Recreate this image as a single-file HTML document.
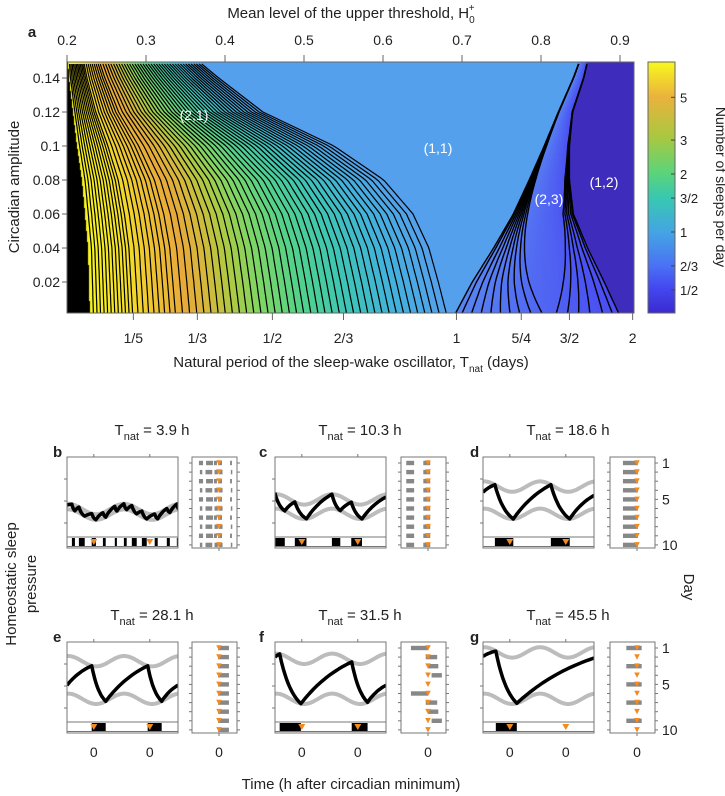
<!DOCTYPE html>
<html><head><meta charset="utf-8">
<style>
html,body{margin:0;padding:0;background:#fff;}
#wrap{position:relative;width:725px;height:796px;overflow:hidden;font-family:"Liberation Sans",Arial,sans-serif;}
#heat{position:absolute;left:67px;top:62px;}
#svg{position:absolute;left:0;top:0;}
text{font-family:"Liberation Sans",Arial,sans-serif;fill:#222;}
</style></head>
<body>
<div id="wrap">
<canvas id="heat" width="567" height="251"></canvas>
<svg id="svg" width="725" height="796" xmlns="http://www.w3.org/2000/svg">
<defs>
<linearGradient id="cbg" x1="0" y1="0" x2="0" y2="1">
<stop offset="0" stop-color="#f8f81e"/>
<stop offset="0.14" stop-color="#eab23c"/>
<stop offset="0.30" stop-color="#a8c840"/>
<stop offset="0.44" stop-color="#5cd47a"/>
<stop offset="0.54" stop-color="#38c8b0"/>
<stop offset="0.68" stop-color="#44a4e4"/>
<stop offset="0.81" stop-color="#4a72f4"/>
<stop offset="0.90" stop-color="#4448f0"/>
<stop offset="1" stop-color="#3b2ad0"/>
</linearGradient>
</defs>
<g id="contours"></g>
<rect x="67" y="62" width="567" height="251" fill="none" stroke="#666" stroke-width="1"/>
<text x="32" y="37" font-size="15" font-weight="bold" text-anchor="middle">a</text>
<text x="351" y="18" font-size="15" text-anchor="middle">Mean level of the upper threshold, H<tspan font-size="10" dy="5">0</tspan><tspan font-size="10" dx="-6" dy="-12">+</tspan></text>
<g id="topticks"></g>
<g id="leftticks"></g>
<g id="bottomticks"></g>
<text x="351" y="367" font-size="15" text-anchor="middle">Natural period of the sleep-wake oscillator, T<tspan font-size="10" dy="5">nat</tspan><tspan dy="-5"> (days)</tspan></text>
<text transform="translate(19,187) rotate(-90)" font-size="15" text-anchor="middle">Circadian amplitude</text>
<text x="194" y="120" font-size="14" style="fill:#fff" text-anchor="middle">(2,1)</text>
<text x="438" y="153" font-size="14" style="fill:#fff" text-anchor="middle">(1,1)</text>
<text x="549" y="204" font-size="14" style="fill:#fff" text-anchor="middle">(2,3)</text>
<text x="604" y="187" font-size="14" style="fill:#fff" text-anchor="middle">(1,2)</text>
<rect x="648" y="62" width="27" height="251" fill="url(#cbg)" stroke="#666" stroke-width="1"/>
<g id="cbticks"></g>
<text transform="translate(716,187) rotate(90)" font-size="14" text-anchor="middle">Number of sleeps per day</text>
<g id="panels"></g>
<text transform="translate(16,584) rotate(-90)" font-size="15" text-anchor="middle">Homeostatic sleep</text>
<text transform="translate(36,584) rotate(-90)" font-size="15" text-anchor="middle">pressure</text>
<text transform="translate(684,587) rotate(90)" font-size="15" text-anchor="middle">Day</text>
<text x="351" y="789" font-size="15" text-anchor="middle">Time (h after circadian minimum)</text>
</svg>
</div>
<script>
// ---------- Panel a data ----------
const ampGrid = [0.0, 0.02, 0.04, 0.06, 0.08, 0.10, 0.12, 0.14, 0.15];
const blackEdgeH0 = [0.229, 0.2278, 0.2266, 0.2228, 0.219, 0.2127, 0.2076, 0.2025, 0.2013];
const leftBoundH0 = [0.681, 0.670, 0.658, 0.638, 0.601, 0.538, 0.448, 0.392, 0.366];
const rightBoundH0 = [0.690, 0.713, 0.740, 0.765, 0.785, 0.804, 0.822, 0.841, 0.849];
const farBoundH0 = [0.900, 0.880, 0.859, 0.841, 0.836, 0.836, 0.840, 0.854, 0.859];
const leftLevels = [0.01,0.02,0.03,0.04,0.05,0.06,0.07,0.08,0.09,0.10,0.11,0.12,0.135,0.15,0.165,0.18,0.195,0.21,0.225,0.24,0.26,0.28,0.30,0.32,0.34,0.36,0.38,0.40,0.42,0.44,0.46,0.48,0.50,0.52,0.54,0.56,0.58,0.60,0.62,0.64,0.66,0.68,0.70,0.72,0.74,0.76,0.78,0.80,0.82,0.84,0.86,0.88,0.90,0.92,0.94,0.96,0.98,1.0];
const rightLevels = [0.0,0.04,0.10,0.16,0.22,0.28,0.34,0.40,0.47,0.54,0.61,0.68,0.75,0.82,0.90,0.96,1.0];
const topTicks = [0.2,0.3,0.4,0.5,0.6,0.7,0.8,0.9];
const leftTicks = [0.02,0.04,0.06,0.08,0.1,0.12,0.14];
const leftTickLabels = ["0.02","0.04","0.06","0.08","0.1","0.12","0.14"];
const bottomTickLabels = ["1/5","1/3","1/2","2/3","1","5/4","3/2","2"];
const bottomTickH0 = [0.284, 0.365, 0.460, 0.550, 0.693, 0.775, 0.836, 0.916];
const cbValues = [5,3,2,1.5,1,0.6667,0.5];
const cbLabels = ["5","3","2","3/2","1","2/3","1/2"];

// ---------- Panels b-g data ----------
const panelIds = ["b","c","d","e","f","g"];
const panelTitles = ["3.9","10.3","18.6","28.1","31.5","45.5"];
const upperMean = [0.35,0.47,0.63,0.76,0.79,0.87];
const lowerMean = [0.28,0.29,0.29,0.29,0.29,0.29];
const startH = [0.40,0.55,0.56,0.46,0.81,0.82];
const endH = [0.42,0.50,0.52,0.46,0.46,0.80];
const sleepB = [[-9.4,-8.1],[-6.4,-3.9],[-0.9,0.9],[3.9,5.1],[9.0,9.9],[12.9,14.1],[16.3,18.4],[20.6,22.7],[26.1,27.4],[31.3,32.6],[35.6,36.5]];
const sleepC = [[-11.4,-7.3],[-3.0,2.0],[12.9,16.5],[21.2,25.8]];
const sleepD = [[-6.4,1.5],[17.6,25.7]];
const sleepE = [[-0.9,5.1],[23.1,29.1]];
const sleepF = [[-9.5,-0.4],[21.4,28.2]];
const sleepG = [[-6.0,3.0]];
const sleeps = [sleepB,sleepC,sleepD,sleepE,sleepF,sleepG];
const rasterB = [[1,-10.7,-8.5],[1,-6.9,-3.2],[1,-2.7,-1.1],[1,-0.5,1.6],[1,5.9,6.9],[2,-10.2,-8.9],[2,-7.2,-3.6],[2,-2.4,-0.6],[2,-0.1,1.9],[2,6.3,7.1],[3,-10.7,-8.5],[3,-6.9,-3.2],[3,-2.7,-1.1],[3,-0.5,1.6],[3,5.9,6.9],[4,-10.2,-8.9],[4,-7.2,-3.6],[4,-2.4,-0.6],[4,-0.1,1.9],[4,6.3,7.1],[5,-10.7,-8.5],[5,-6.9,-3.2],[5,-2.7,-1.1],[5,-0.5,1.6],[5,5.9,6.9],[6,-10.2,-8.9],[6,-7.2,-3.6],[6,-2.4,-0.6],[6,-0.1,1.9],[6,6.3,7.1],[7,-10.7,-8.5],[7,-6.9,-3.2],[7,-2.7,-1.1],[7,-0.5,1.6],[7,5.9,6.9],[8,-10.2,-8.9],[8,-7.2,-3.6],[8,-2.4,-0.6],[8,-0.1,1.9],[8,6.3,7.1],[9,-10.7,-8.5],[9,-6.9,-3.2],[9,-2.7,-1.1],[9,-0.5,1.6],[9,5.9,6.9],[10,-10.2,-8.9],[10,-7.2,-3.6],[10,-2.4,-0.6],[10,-0.1,1.9],[10,6.3,7.1]];
const rasterC = [[1,-11.6,-7.4],[1,-2.5,1.2],[2,-11.6,-7.4],[2,-2.5,1.2],[3,-11.6,-7.4],[3,-2.5,1.2],[4,-11.6,-7.4],[4,-2.5,1.2],[5,-11.6,-7.4],[5,-2.5,1.2],[6,-11.6,-7.4],[6,-2.5,1.2],[7,-11.6,-7.4],[7,-2.5,1.2],[8,-11.6,-7.4],[8,-2.5,1.2],[9,-11.6,-7.4],[9,-2.5,1.2],[10,-11.6,-7.4],[10,-2.5,1.2]];
const rasterD = [[1,-7.5,0.5],[2,-7.5,0.5],[3,-7.5,0.5],[4,-7.5,0.5],[5,-7.5,0.5],[6,-7.5,0.5],[7,-7.5,0.5],[8,-7.5,0.5],[9,-7.5,0.5],[10,-7.5,0.5]];
const rasterE = [[1,-0.5,5.3],[2,-0.5,5.3],[3,-0.5,5.3],[4,-0.5,5.3],[5,-0.5,5.3],[6,-0.5,5.3],[7,-0.5,5.3],[8,-0.5,5.3],[9,-0.5,5.3],[10,-0.5,5.3]];
const rasterF = [[1,-9.1,0],[2,-1.2,4.9],[3,0,5.5],[4,1.9,7.4],[6,-9.1,0],[7,-1.2,4.9],[8,0,5.5],[9,1.9,7.4]];
const rasterG = [[1,-5.7,2.5],[3,-5.7,2.5],[5,-5.7,2.5],[7,-5.7,2.5],[9,-5.7,2.5]];
const rasters = [rasterB,rasterC,rasterD,rasterE,rasterF,rasterG];
const dayTicks = [1,5,10];
const circMinima = [0,24];

// ---------- helpers ----------
const NS = "http://www.w3.org/2000/svg";
function mk(tag, parent){ const e=document.createElementNS(NS,tag); parent.appendChild(e); return e; }
function interp(xs, ys, x){
  if (x<=xs[0]) return ys[0];
  for (let i=1;i<xs.length;i++){ if (x<=xs[i]){ const f=(x-xs[i-1])/(xs[i]-xs[i-1]); return ys[i-1]+f*(ys[i]-ys[i-1]); } }
  return ys[ys.length-1];
}
const xH = h => 67 + (h-0.2)*790;
const yA = a => 316 - a*1700;
const aOfY = y => (316-y)/1700;

// colormap for left region
const cmU = [0,0.10,0.18,0.27,0.33,0.40,0.48,0.60,0.72,0.86,1.0];
const cmC = [[246,244,30],[244,226,40],[238,196,52],[232,170,58],[214,184,60],[176,202,66],[128,214,100],[82,210,140],[62,198,180],[66,178,220],[85,160,236]];
function cmap(u){
  u=Math.max(0,Math.min(1,u));
  for (let i=1;i<cmU.length;i++){ if(u<=cmU[i]){ const f=(u-cmU[i-1])/(cmU[i]-cmU[i-1]); return cmC[i-1].map((c,k)=>c+f*(cmC[i][k]-c)); } }
  return cmC[cmC.length-1];
}

// ---------- heatmap fill ----------
(function(){
  const cv=document.getElementById('heat'); const ctx=cv.getContext('2d');
  const W=cv.width,H=cv.height; const img=ctx.createImageData(W,H);
  for (let j=0;j<H;j++){
    const y=62+j+0.5, a=aOfY(y);
    const xb=xH(interp(ampGrid,blackEdgeH0,a)), B=xH(interp(ampGrid,leftBoundH0,a));
    const R1=xH(interp(ampGrid,rightBoundH0,a)), R2=xH(interp(ampGrid,farBoundH0,a));
    for (let i=0;i<W;i++){
      const x=67+i+0.5; let c;
      if (x<xb) c=[0,0,0];
      else if (x<B) c=cmap((x-xb)/(B-xb));
      else if (x<R1) c=[85,160,236];
      else if (x<R2){ const v=(x-R1)/(R2-R1); c=[88-14*v,132-56*v,242]; }
      else c=[62,44,188];
      const p=(j*W+i)*4; img.data[p]=c[0]; img.data[p+1]=c[1]; img.data[p+2]=c[2]; img.data[p+3]=255;
    }
  }
  ctx.putImageData(img,0,0);
})();

// ---------- contour lines ----------
(function(){
  const g=document.getElementById('contours');
  leftLevels.forEach(u=>{
    let d="";
    for (let y=313;y>=62;y-=3){
      const a=aOfY(y); const xb=xH(interp(ampGrid,blackEdgeH0,a)), B=xH(interp(ampGrid,leftBoundH0,a));
      d+=(d?"L":"M")+(xb+u*(B-xb)).toFixed(1)+","+y;
    }
    const p=mk('path',g);
    
    
    p.setAttribute('d',d); p.setAttribute('fill','none'); p.setAttribute('stroke','#000'); p.setAttribute('stroke-width','1.2');
  });
  rightLevels.forEach(v=>{
    let d="";
    for (let y=313;y>=62;y-=3){
      const a=aOfY(y), f=Math.min(1,a/0.15), s=Math.pow(1-f,1.6);
      const R1=xH(interp(ampGrid,rightBoundH0,a)), R2=xH(interp(ampGrid,farBoundH0,a));
      const vv = v<0.55 ? v*s : 1-(1-v)*s;
      d+=(d?"L":"M")+(R1+vv*(R2-R1)).toFixed(1)+","+y;
    }
    const p=mk('path',g);
    
    
    p.setAttribute('d',d); p.setAttribute('fill','none'); p.setAttribute('stroke','#000'); p.setAttribute('stroke-width','1.4');
  });
})();

// ---------- axes panel a ----------
(function(){
  const gt=document.getElementById('topticks');
  topTicks.forEach(v=>{
    const x=xH(v);
    const l=mk('line',gt);
    
    
    l.setAttribute('x1',x);l.setAttribute('x2',x);l.setAttribute('y1',55);l.setAttribute('y2',62);l.setAttribute('stroke','#666');
    const t=mk('text',gt);
    
    
    t.setAttribute('x',x);t.setAttribute('y',45);t.setAttribute('font-size','14');t.setAttribute('text-anchor','middle');
    t.textContent=String(v);
  });
  const gl=document.getElementById('leftticks');
  leftTicks.forEach((v,i)=>{
    const y=yA(v);
    const l=mk('line',gl);
    
    
    l.setAttribute('x1',67);l.setAttribute('x2',62);l.setAttribute('y1',y);l.setAttribute('y2',y);l.setAttribute('stroke','#666');
    const t=mk('text',gl);
    
    
    t.setAttribute('x',60);t.setAttribute('y',y+5);t.setAttribute('font-size','14');t.setAttribute('text-anchor','end');
    t.textContent=leftTickLabels[i];
  });
  const gb=document.getElementById('bottomticks');
  bottomTickH0.forEach((v,i)=>{
    const x=xH(v);
    const l=mk('line',gb);
    
    
    l.setAttribute('x1',x);l.setAttribute('x2',x);l.setAttribute('y1',313);l.setAttribute('y2',320);l.setAttribute('stroke','#666');
    const t=mk('text',gb);
    
    
    t.setAttribute('x',x);t.setAttribute('y',343);t.setAttribute('font-size','14');t.setAttribute('text-anchor','middle');
    t.textContent=bottomTickLabels[i];
  });
  const gc=document.getElementById('cbticks');
  const cbY = s => 232 - Math.log2(s)*58;
  cbValues.forEach((v,i)=>{
    const y=cbY(v);
    const l=mk('line',gc);
    
    
    l.setAttribute('x1',675);l.setAttribute('x2',671);l.setAttribute('y1',y);l.setAttribute('y2',y);l.setAttribute('stroke','#444');
    const t=mk('text',gc);
    
    
    t.setAttribute('x',680);t.setAttribute('y',y+5);t.setAttribute('font-size','13');
    t.textContent=cbLabels[i];
  });
})();

// ---------- panels b-g ----------
(function(){
  const G=document.getElementById('panels');
  const colMain=[67,275,483], colRaster=[192,401,610];
  const rowTop=[457,642], rowStrip=[537,722], rowBot=[548,733];
  const T0=-11.5, T1=36.1, MW=111, RW=45, RZ=27, RPH=1.875;
  const amp=0.065, tmax=13;
  panelIds.forEach((id,k)=>{
    const col=k%3,row=Math.floor(k/3);
    const L=colMain[col], top=rowTop[row], st=rowStrip[row], bot=rowBot[row];
    const xT=t=>L+(t-T0)/(T1-T0)*MW, yH=h=>st-h*80;
    const up=t=>upperMean[k]+amp*Math.cos(2*Math.PI*(t-tmax)/24);
    const lo=t=>lowerMean[k]+amp*Math.cos(2*Math.PI*(t-tmax)/24);
    const g=mk('g',G);
    
    
    const tt=mk('text',g);
    
    
    tt.setAttribute('x',[152,360,568][col]);tt.setAttribute('y',top-22);tt.setAttribute('font-size','15');tt.setAttribute('text-anchor','middle');
    tt.innerHTML='T<tspan font-size="11" dy="5">nat</tspan><tspan dy="-5"> = '+panelTitles[k]+' h</tspan>';
    const lb=mk('text',g);
    
    
    lb.setAttribute('x',[53,259,470][col]);lb.setAttribute('y',top);lb.setAttribute('font-size','15');lb.setAttribute('font-weight','bold');
    lb.textContent=id;
    const cp=mk('clipPath',g); cp.setAttribute('id','clip'+id);
    const cr=mk('rect',cp); cr.setAttribute('x',L);cr.setAttribute('y',top);cr.setAttribute('width',MW);cr.setAttribute('height',st-top);
    const inner=mk('g',g); inner.setAttribute('clip-path','url(#clip'+id+')');
    
    
    [up,lo].forEach((fn,q)=>{
      let d="";
      for(let t=T0;t<=T1+0.01;t+=0.5){ d+=(d?"L":"M")+xT(t).toFixed(1)+","+yH(fn(t)).toFixed(1); }
      const p=mk('path',inner);
      
      
      p.setAttribute('d',d);p.setAttribute('fill','none');p.setAttribute('stroke','#bcbcbc');p.setAttribute('stroke-width','4');
    });
    const pts=[]; const sl=sleeps[k];
    if (sl[0][0]>T0+0.05) pts.push([T0,startH[k]]);
    sl.forEach(s=>{ pts.push([s[0],up(s[0])]); pts.push([s[1],lo(s[1])]); });
    if (sl[sl.length-1][1]<T1) pts.push([T1,endH[k]]);
    let d="M"+xT(pts[0][0]).toFixed(1)+","+yH(pts[0][1]).toFixed(1);
    for(let i=1;i<pts.length;i++){
      const [t0,h0]=pts[i-1],[t1,h1]=pts[i]; const kk=h1<h0?1.6:1.0; const n=12;
      for(let s=1;s<=n;s++){ const f=s/n; const e=(1-Math.exp(-kk*f))/(1-Math.exp(-kk));
        d+="L"+xT(t0+f*(t1-t0)).toFixed(1)+","+yH(h0+e*(h1-h0)).toFixed(1); }
    }
    const tr=mk('path',inner);
    
    
    tr.setAttribute('d',d);tr.setAttribute('fill','none');tr.setAttribute('stroke','#000');tr.setAttribute('stroke-width','3.5');tr.setAttribute('stroke-linejoin','round');
    const sb=mk('g',g); sb.setAttribute('clip-path','url(#clipS'+id+')');
    
    
    const cp2=mk('clipPath',g); cp2.setAttribute('id','clipS'+id);
    const cr2=mk('rect',cp2); cr2.setAttribute('x',L);cr2.setAttribute('y',st);cr2.setAttribute('width',MW);cr2.setAttribute('height',bot-st);
    sl.forEach(s=>{
      const r=mk('rect',sb);
      
      
      r.setAttribute('x',xT(s[0]));r.setAttribute('width',xT(s[1])-xT(s[0]));r.setAttribute('y',st+1);r.setAttribute('height',bot-st-2.5);r.setAttribute('fill','#000');
    });
    circMinima.forEach(t=>{
      const x=xT(t); const tri=mk('path',g);
      
      
      tri.setAttribute('d',`M${x-3.5},${st+2}L${x+3.5},${st+2}L${x},${st+8}Z`);tri.setAttribute('fill','#f28a22');
    });
    [st,bot-1.5].forEach(y=>{
      const l=mk('line',g);
      
      
      l.setAttribute('x1',L);l.setAttribute('x2',L+MW);l.setAttribute('y1',y);l.setAttribute('y2',y);l.setAttribute('stroke','#777');
    });
    const fr=mk('rect',g);
    
    
    fr.setAttribute('x',L);fr.setAttribute('y',top);fr.setAttribute('width',MW);fr.setAttribute('height',bot-top);fr.setAttribute('fill','none');fr.setAttribute('stroke','#777');
    circMinima.forEach(t=>{
      const l=mk('line',g);
      
      
      l.setAttribute('x1',xT(t));l.setAttribute('x2',xT(t));l.setAttribute('y1',top-3);l.setAttribute('y2',top);l.setAttribute('stroke','#777');
      if(row===1){ const tx=mk('text',g);
        
        
        tx.setAttribute('x',xT(t));tx.setAttribute('y',757);tx.setAttribute('font-size','14');tx.setAttribute('text-anchor','middle');tx.textContent='0'; }
    });
    [0.25,0.5,0.75].forEach(f=>{
      const y=top+f*(st-top)*1.1; const l=mk('line',g);
      
      
      l.setAttribute('x1',L-3);l.setAttribute('x2',L);l.setAttribute('y1',y);l.setAttribute('y2',y);l.setAttribute('stroke','#777');
    });
    const RL=colRaster[col]; const rz=RL+RZ; const dayY=dd=>top+6+(dd-1)*9.1;
    const rg=mk('g',g);
    
    
    const cp3=mk('clipPath',g); cp3.setAttribute('id','clipR'+id);
    const cr3=mk('rect',cp3); cr3.setAttribute('x',RL);cr3.setAttribute('y',top);cr3.setAttribute('width',RW);cr3.setAttribute('height',bot-top);
    rg.setAttribute('clip-path','url(#clipR'+id+')');
    rasters[k].forEach(r=>{
      const b=mk('rect',rg);
      
      
      b.setAttribute('x',rz+r[1]*RPH);b.setAttribute('width',(r[2]-r[1])*RPH);b.setAttribute('y',dayY(r[0])-2.2);b.setAttribute('height',4.4);b.setAttribute('fill','#878787');
    });
    for(let dd=1;dd<=10;dd++){
      const y=dayY(dd); const tri=mk('path',g);
      
      
      tri.setAttribute('d',`M${rz-2.8},${y-2.8}L${rz+2.8},${y-2.8}L${rz},${y+2.6}Z`);tri.setAttribute('fill','#f28a22');
      [[RL-3,RL],[RL+RW,RL+RW+3]].forEach(xx=>{ const l=mk('line',g);
        
        
        l.setAttribute('x1',xx[0]);l.setAttribute('x2',xx[1]);l.setAttribute('y1',y);l.setAttribute('y2',y);l.setAttribute('stroke','#777'); });
    }
    const rf=mk('rect',g);
    
    
    rf.setAttribute('x',RL);rf.setAttribute('y',top);rf.setAttribute('width',RW);rf.setAttribute('height',bot-top);rf.setAttribute('fill','none');rf.setAttribute('stroke','#777');
    const rt=mk('line',g);
    
    
    rt.setAttribute('x1',rz);rt.setAttribute('x2',rz);rt.setAttribute('y1',bot);rt.setAttribute('y2',bot+3);rt.setAttribute('stroke','#777');
    if(row===1){ const tx=mk('text',g);
      
      
      tx.setAttribute('x',rz);tx.setAttribute('y',757);tx.setAttribute('font-size','14');tx.setAttribute('text-anchor','middle');tx.textContent='0'; }
    if(col===2){
      dayTicks.forEach(dd=>{ const tx=mk('text',g);
        
        
        tx.setAttribute('x',662);tx.setAttribute('y',dayY(dd)+5);tx.setAttribute('font-size','14');tx.textContent=String(dd); });
    }
  });
})();
</script>
</body></html>
